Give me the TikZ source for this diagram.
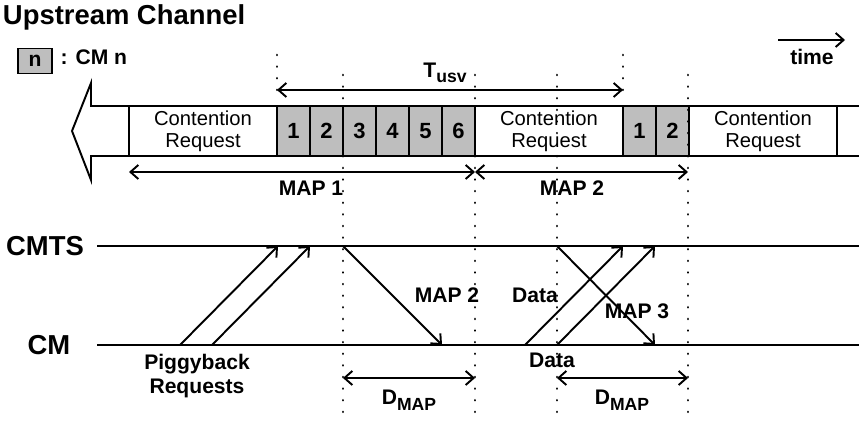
\documentclass[tikz,border=0pt]{standalone}
\usepackage{fontspec}
\setmainfont{Liberation Sans}
\usepackage{tikz}
\usetikzlibrary{positioning,arrows.meta}
\definecolor{cellgray}{RGB}{190,190,190}

\begin{document}
\begin{tikzpicture}[
  line width=1.1pt,
  >={Straight Barb[length=4.5pt,width=8pt]},
  every node/.style={font=\bfseries\fontsize{12}{13.5}\selectfont, inner sep=1pt},
  slot/.style={draw, line width=1.1pt, minimum height=1cm, inner sep=0pt, outer sep=0pt},
  cr/.style={slot, fill=white, minimum width=2.96cm, align=center, font=\fontsize{11.5}{12.5}\selectfont},
  cmcell/.style={slot, fill=cellgray, minimum width=0.66cm, font=\bfseries\fontsize{12.5}{14}\selectfont},
  guide/.style={line width=1.5pt, dash pattern=on 0.01pt off 6.6pt, line cap=round},
  big/.style={font=\bfseries\fontsize{15.6}{18}\selectfont}
]
  \useasboundingbox (0,0) rectangle (17.18,8.44);

  \node[big, anchor=west, inner sep=0pt] (title) at (0.04,8.1) {Upstream Channel};
  \node[draw, fill=cellgray, minimum width=0.68cm, minimum height=0.5cm, inner sep=0pt] (key) at (0.70,7.22) {n};
  \node[anchor=west] (keytext) at (1.16,7.3) {: CM n};

  % upstream channel
  \draw (17.18,6.32) -- (1.82,6.32) -- (1.82,6.78) -- (1.44,5.82) -- (1.82,4.84) -- (1.82,5.32) -- (17.18,5.32);
  \node[cr, anchor=west] (cr1) at (2.58,5.82) {Contention\\Request};
  \node[cmcell, right=0pt of cr1] (c1) {1};
  \node[cmcell, right=0pt of c1] (c2) {2};
  \node[cmcell, right=0pt of c2] (c3) {3};
  \node[cmcell, right=0pt of c3] (c4) {4};
  \node[cmcell, right=0pt of c4] (c5) {5};
  \node[cmcell, right=0pt of c5] (c6) {6};
  \node[cr, right=0pt of c6] (cr2) {Contention\\Request};
  \node[cmcell, right=0pt of cr2] (d1) {1};
  \node[cmcell, right=0pt of d1] (d2) {2};
  \node[cr, right=0pt of d2] (cr3) {Contention\\Request};

  \draw[->] (15.56,7.64) -- (16.9,7.64);
  \node (time) at (16.24,7.3) {time};

  \coordinate (tu1) at (5.54,6.64);
  \coordinate (tu2) at (12.46,6.64);
  \draw[<->] (tu1) -- (tu2);
  \node (tusv) at (8.9,6.98) {T\raisebox{-0.45ex}{\fontsize{10}{11}\selectfont usv}};

  \coordinate (m0) at (2.58,5.0);
  \coordinate (m1) at (9.5,5.0);
  \coordinate (m2) at (13.76,5.0);
  \draw[<->] (m0) -- (m1);
  \draw[<->] (m1) -- (m2);
  \node (map1) at (6.22,4.68) {MAP 1};
  \node (map2) at (11.44,4.68) {MAP 2};

  % CMTS and CM time lines
  \node[big] (cmts) at (0.9,3.52) {CMTS};
  \node[big] (cm) at (0.98,1.54) {CM};
  \coordinate (cmtsL) at (1.94,3.52);
  \coordinate (cmtsR) at (17.18,3.52);
  \coordinate (cmL) at (1.94,1.54);
  \coordinate (cmR) at (17.18,1.54);
  \draw (cmtsL) -- (cmtsR);
  \draw (cmL) -- (cmR);

  \coordinate (pb1) at (3.6,1.54);   \coordinate (pb1e) at (5.56,3.52);
  \coordinate (pb2) at (4.24,1.54);  \coordinate (pb2e) at (6.2,3.52);
  \coordinate (mp2) at (6.86,3.52);  \coordinate (mp2e) at (8.84,1.54);
  \coordinate (dt1) at (10.5,1.54);  \coordinate (dt1e) at (12.46,3.52);
  \coordinate (dt2) at (11.14,1.54); \coordinate (dt2e) at (13.1,3.52);
  \coordinate (mp3) at (11.14,3.52); \coordinate (mp3e) at (13.1,1.54);
  \draw[->] (pb1) -- (pb1e);
  \draw[->] (pb2) -- (pb2e);
  \draw[->] (mp2) -- (mp2e);
  \draw[->] (dt1) -- (dt1e);
  \draw[->] (dt2) -- (dt2e);
  \draw[->] (mp3) -- (mp3e);

  \node[align=center] (piggy) at (3.94,0.92) {Piggyback\\Requests};
  \node (lmap2) at (8.94,2.54) {MAP 2};
  \node (data1) at (10.7,2.54) {Data};
  \node (lmap3) at (12.74,2.22) {MAP 3};
  \node (data2) at (11.04,1.24) {Data};

  \coordinate (dm1) at (6.86,0.88);  \coordinate (dm1e) at (9.5,0.88);
  \coordinate (dm2) at (11.14,0.88); \coordinate (dm2e) at (13.76,0.88);
  \draw[<->] (dm1) -- (dm1e);
  \draw[<->] (dm2) -- (dm2e);
  \node (dmap1) at (8.18,0.44) {D\raisebox{-0.55ex}{\fontsize{10}{11}\selectfont MAP}};
  \node (dmap2) at (12.44,0.44) {D\raisebox{-0.55ex}{\fontsize{10}{11}\selectfont MAP}};

  % dotted guides
  \draw[guide] (5.54,7.34) -- (5.54,6.44);
  \draw[guide] (12.46,7.34) -- (12.46,6.44);
  \draw[guide] (6.86,6.94) -- (6.86,0.14);
  \draw[guide] (9.5,6.94) -- (9.5,0.14);
  \draw[guide] (11.14,6.94) -- (11.14,0.14);
  \draw[guide] (13.76,6.94) -- (13.76,0.14);
\end{tikzpicture}
\end{document}
